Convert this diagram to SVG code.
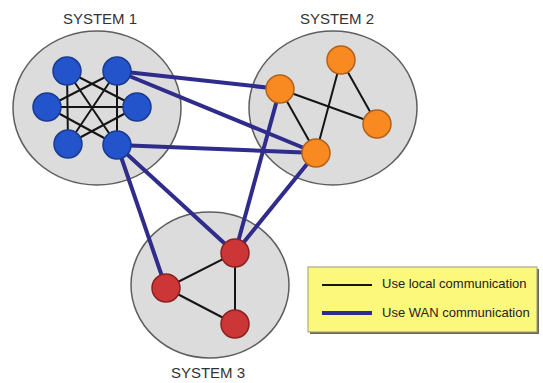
<svg xmlns="http://www.w3.org/2000/svg" width="543" height="383" viewBox="0 0 543 383">
<style>
.sys{fill:#dcdcdc;stroke:#5e5e5e;stroke-width:1.5}
.lbl{font-family:"Liberation Sans",Arial,sans-serif;font-size:15px;fill:#333333;text-anchor:middle}
.leg{font-family:"Liberation Sans",Arial,sans-serif;font-size:13px;fill:#222222}
.local{stroke:#151515;stroke-width:2;fill:none;stroke-linecap:round}
.wan{stroke:#2f2c8c;stroke-width:4;fill:none;stroke-linecap:round}
.b{fill:#2354cc;stroke:#1a3b8f;stroke-width:1.5}
.o{fill:#f98a22;stroke:#b3611a;stroke-width:1.5}
.r{fill:#cc3636;stroke:#8a2222;stroke-width:1.5}
</style>
<rect width="543" height="383" fill="#ffffff"/>
<g id="system1-area">
<ellipse class="sys" cx="97" cy="108" rx="84" ry="77"/>
<text class="lbl" x="100" y="24">SYSTEM 1</text>
</g>
<g id="system2-area">
<ellipse class="sys" cx="333" cy="108" rx="84" ry="77"/>
<text class="lbl" x="337" y="24">SYSTEM 2</text>
</g>
<g id="system3-area">
<ellipse class="sys" cx="210" cy="285" rx="79" ry="73"/>
<text class="lbl" x="208" y="378">SYSTEM 3</text>
</g>
<g id="connectors">
<g id="local-links">
<line class="local" x1="67" y1="71" x2="68" y2="144"/>
<line class="local" x1="117" y1="71" x2="117" y2="145"/>
<line class="local" x1="47" y1="107" x2="137" y2="107"/>
<line class="local" x1="67" y1="71" x2="137" y2="107"/>
<line class="local" x1="67" y1="71" x2="117" y2="145"/>
<line class="local" x1="117" y1="71" x2="47" y2="107"/>
<line class="local" x1="117" y1="71" x2="68" y2="144"/>
<line class="local" x1="47" y1="107" x2="117" y2="145"/>
<line class="local" x1="137" y1="107" x2="68" y2="144"/>
<line class="local" x1="280" y1="89" x2="316" y2="153"/>
<line class="local" x1="280" y1="89" x2="377" y2="124"/>
<line class="local" x1="341" y1="60" x2="316" y2="153"/>
<line class="local" x1="341" y1="60" x2="377" y2="124"/>
<line class="local" x1="235" y1="253" x2="166" y2="288"/>
<line class="local" x1="235" y1="253" x2="235" y2="324"/>
<line class="local" x1="166" y1="288" x2="235" y2="324"/>
</g>
<g id="wan-links">
<line class="wan" x1="117" y1="71" x2="280" y2="89"/>
<line class="wan" x1="117" y1="71" x2="316" y2="153"/>
<line class="wan" x1="117" y1="145" x2="316" y2="153"/>
<line class="wan" x1="117" y1="145" x2="235" y2="253"/>
<line class="wan" x1="117" y1="145" x2="166" y2="288"/>
<line class="wan" x1="280" y1="89" x2="235" y2="253"/>
<line class="wan" x1="316" y1="153" x2="235" y2="253"/>
</g>
</g>
<g id="s1-n1"><circle class="b" cx="67" cy="71" r="14"/></g>
<g id="s1-n2"><circle class="b" cx="117" cy="71" r="14"/></g>
<g id="s1-n3"><circle class="b" cx="47" cy="107" r="14"/></g>
<g id="s1-n4"><circle class="b" cx="137" cy="107" r="14"/></g>
<g id="s1-n5"><circle class="b" cx="68" cy="144" r="14"/></g>
<g id="s1-n6"><circle class="b" cx="117" cy="145" r="14"/></g>
<g id="s2-n1"><circle class="o" cx="341" cy="60" r="14"/></g>
<g id="s2-n2"><circle class="o" cx="280" cy="89" r="14"/></g>
<g id="s2-n3"><circle class="o" cx="377" cy="124" r="14"/></g>
<g id="s2-n4"><circle class="o" cx="316" cy="153" r="14"/></g>
<g id="s3-n1"><circle class="r" cx="235" cy="253" r="14"/></g>
<g id="s3-n2"><circle class="r" cx="166" cy="288" r="14"/></g>
<g id="s3-n3"><circle class="r" cx="235" cy="324" r="14"/></g>
<g id="legend">
<rect x="310" y="269" width="229" height="65" fill="#6a6a58"/>
<rect x="308" y="267" width="229" height="65" fill="#fbf87c" stroke="#9a9a7a" stroke-width="1"/>
<line x1="322" y1="285" x2="372" y2="285" stroke="#151515" stroke-width="2"/>
<text class="leg" x="382" y="288">Use local communication</text>
<line x1="322" y1="313" x2="372" y2="313" stroke="#2f2c8c" stroke-width="4"/>
<text class="leg" x="382" y="317">Use WAN communication</text>
</g>
</svg>
